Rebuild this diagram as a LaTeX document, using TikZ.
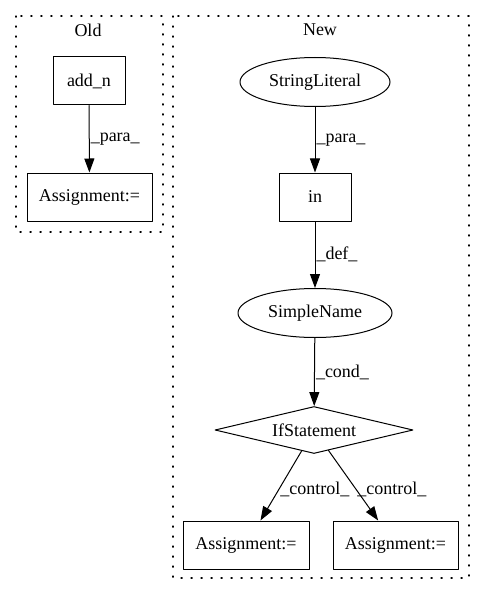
\documentclass[tikz,border=0pt]{standalone}
\usepackage{fontspec}
\setmainfont{Liberation Serif}
\usetikzlibrary{shapes.geometric,arrows.meta}

\begin{document}
\begin{tikzpicture}[line cap=round,line join=round,>={Triangle[length=14pt,width=10pt]},x=1pt,y=-1pt,
		font=\fontsize{18}{21}\selectfont,
		box/.style={draw,line width=1pt,rectangle,minimum height=48pt,inner sep=0pt},
		oval/.style={draw,line width=1pt,ellipse,minimum height=49pt,inner sep=0pt},
		cond/.style={draw,line width=1pt,diamond,aspect=4.2,minimum width=198pt,minimum height=47pt,inner sep=0pt},
		lbl/.style={right,inner sep=1pt},
		flow/.style={->,line width=1pt},
		cluster/.style={line width=1.1pt,dash pattern=on 1.2pt off 8.8pt}]
		\useasboundingbox (0,0) rectangle (485,596);
		\draw [cluster] (16,16) rectangle (163,232);
		\draw [cluster] (173,16) rectangle (469,578);
		\node (oldtitle) at (88,30) {Old};
		\node (newtitle) at (320,30) {New};
		\node [box,minimum width=72pt] (addn) at (89,81) {add\_n};
		\node [box,minimum width=125pt] (asgold) at (89.5,197) {Assignment:=};
		\node [oval,minimum width=150pt] (strlit) at (315,82) {StringLiteral};
		\node [box,minimum width=72pt] (inop) at (315,197) {in};
		\node [oval,minimum width=154pt] (simplename) at (315,313) {SimpleName};
		\node [cond] (ifstmt) at (314,430) {IfStatement};
		\node [box,minimum width=126pt] (asgleft) at (246,545) {Assignment:=};
		\node [box,minimum width=125pt] (asgright) at (395.5,545) {Assignment:=};
		\draw [flow] (addn) -- node[lbl] {\_para\_} (asgold);
		\draw [flow] (strlit) -- node[lbl] {\_para\_} (inop);
		\draw [flow] (inop) -- node[lbl] {\_def\_} (simplename);
		\draw [flow] (simplename) -- node[lbl] {\_cond\_} (ifstmt);
		\draw [flow] (ifstmt) -- node[lbl,pos=0.55] {\_control\_} (asgleft);
		\draw [flow] (ifstmt) -- node[lbl,pos=0.55] {\_control\_} (asgright);
	\end{tikzpicture}
\end{document}
